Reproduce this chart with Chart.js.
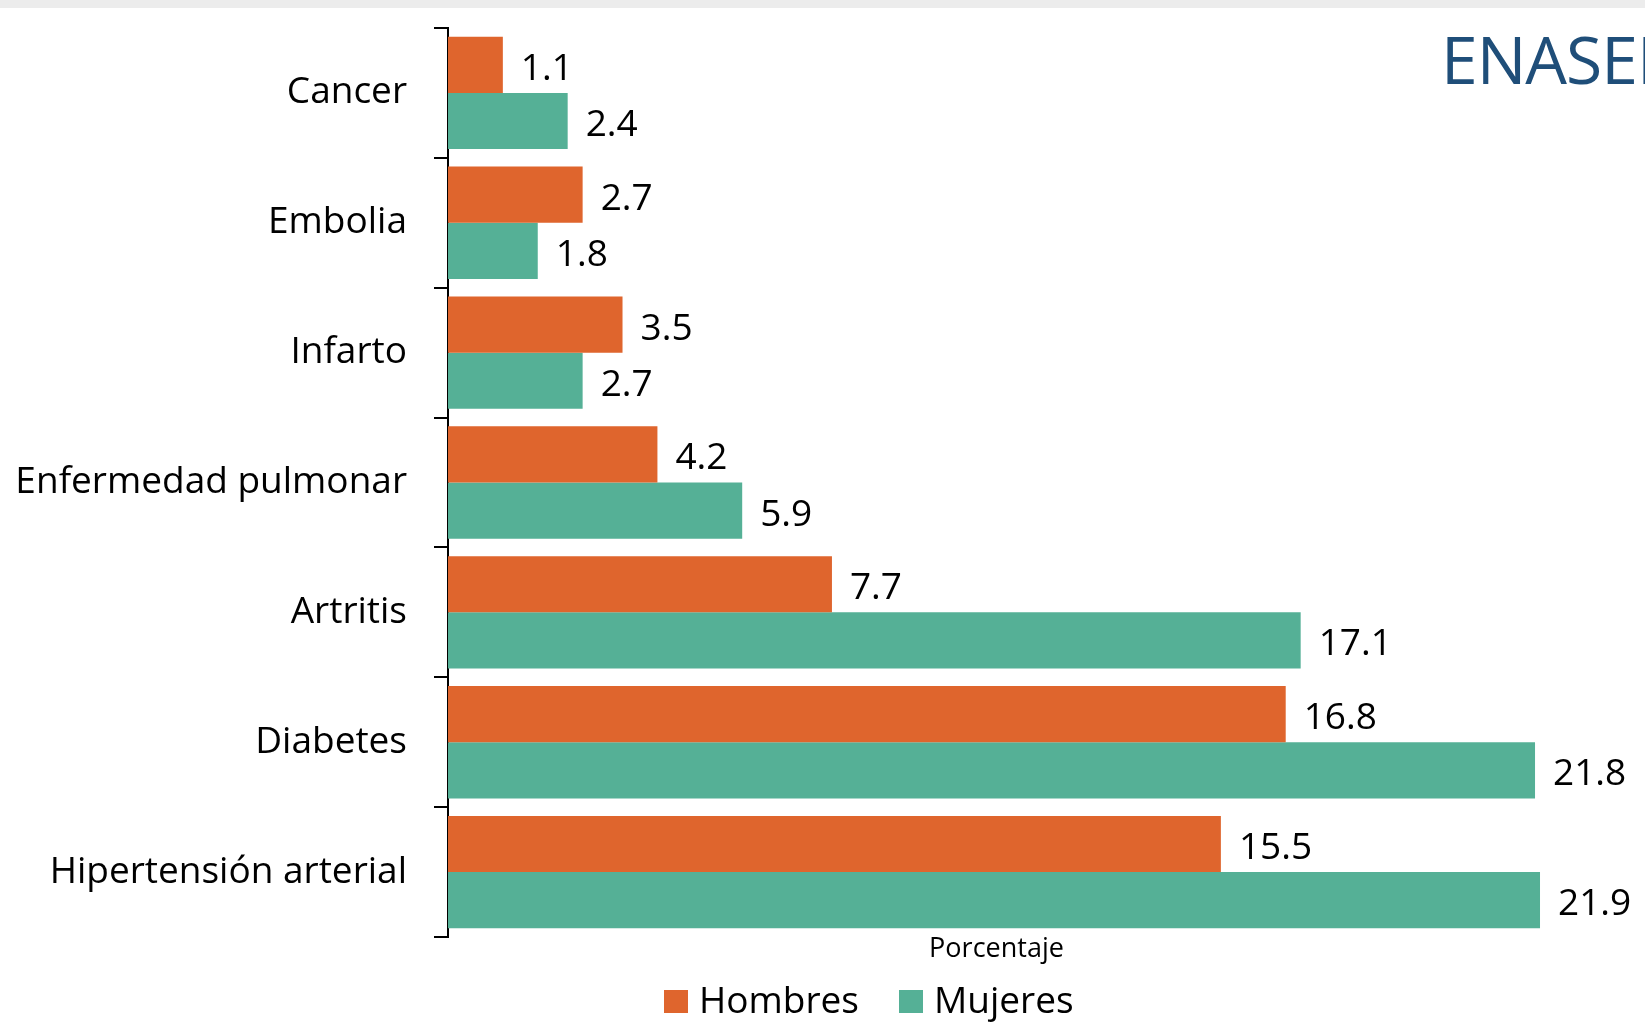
<!DOCTYPE html>
<html>
<head>
<meta charset="utf-8">
<script src="https://cdn.jsdelivr.net/npm/chart.js@4.4.0/dist/chart.umd.min.js"></script>
<style>
  html, body { margin: 0; padding: 0; background: #fff; }
  body { width: 1645px; height: 1023px; position: relative; overflow: hidden; font-family: 'Open Sans', sans-serif; }
  #topband { position: absolute; left: 0; top: 0; width: 1645px; height: 8px; background: #ececec; }
  #brand { position: absolute; left: 1441px; top: 25px; font-size: 66px; line-height: 1; letter-spacing: -1px; color: #1F4E79; white-space: nowrap; }
  #wrap { position: absolute; left: 0; top: 0; width: 1645px; height: 1023px; }
  #legend { position: absolute; left: 664px; top: 980px; display: flex; gap: 40px; }
  .item { display: flex; align-items: flex-start; font-size: 37px; line-height: 1; color: #000; }
  .box { width: 24px; height: 23px; margin-top: 10px; margin-right: 11px; }
</style>
</head>
<body>
<div id="topband"></div>
<div id="wrap"><canvas id="chart"></canvas></div>
<div id="brand">ENASEM</div>
<div id="legend"></div>

<script>
/* ================================================
   DATA
================================================ */

const categories = ['Cancer', 'Embolia', 'Infarto', 'Enfermedad pulmonar', 'Artritis', 'Diabetes', 'Hipertensión arterial'];
const hombres    = [1.1, 2.7, 3.5, 4.2, 7.7, 16.8, 15.5];
const mujeres    = [2.4, 1.8, 2.7, 5.9, 17.1, 21.8, 21.9];
const seriesNames  = ['Hombres', 'Mujeres'];
const seriesColors = ['#DF652D', '#55B096'];
const xTitle = 'Porcentaje';

/* ================================================
   VALUE LABELS  (drawn at bar end)
================================================ */

const barValueLabels = {
  id: 'barValueLabels',
  afterDatasetsDraw(chart) {
    const ctx = chart.ctx;
    ctx.save();
    ctx.font = '37px "Open Sans"';
    ctx.fillStyle = '#000';
    ctx.textAlign = 'left';
    ctx.textBaseline = 'alphabetic';
    chart.data.datasets.forEach((ds, i) => {
      chart.getDatasetMeta(i).data.forEach((bar, j) => {
        ctx.fillText(ds.data[j].toFixed(1), bar.x + 18, bar.y + 15);
      });
    });
    ctx.restore();
  },
};

/* ================================================
   CHART
================================================ */

Chart.defaults.font.family = "'Open Sans', sans-serif";

new Chart(document.getElementById('chart').getContext('2d'), {
  type: 'bar',
  data: {
    labels: categories,
    datasets: [hombres, mujeres].map((d, i) => ({
      label:              seriesNames[i],
      data:               d,
      backgroundColor:    seriesColors[i],
      borderWidth:        0,
      categoryPercentage: 0.865,
      barPercentage:      1.0,
    })),
  },
  options: {
    indexAxis:           'y',
    responsive:          true,
    maintainAspectRatio: false,
    animation:           false,
    layout: { padding: { top: 28, right: 100, bottom: 46, left: 0 } },
    plugins: {
      legend:  { display: false },
      tooltip: { enabled: false },
    },
    scales: {
      x: {
        min: 0,
        max: 22,
        grid:   { display: false },
        border: { display: false },
        ticks:  { display: false },
        title: {
          display: true,
          text:    xTitle,
          color:   '#000',
          font:    { size: 27 },
          padding: { top: 0, bottom: 11 },
        },
        afterFit: s => { s.height = 40; },
      },
      y: {
        grid:   { offset: true, drawOnChartArea: false, color: '#000', lineWidth: 2, tickLength: 14 },
        border: { color: '#000', width: 2 },
        ticks:  { color: '#000', font: { size: 37 }, padding: 27 },
        afterFit: s => {
          s.width = 448;
          s.paddingTop = 0;
          s.paddingBottom = 0;
        },
      },
    },
  },
  plugins: [barValueLabels],
});

/* ================================================
   LEGEND  (html, below the axis title)
================================================ */

const legendEl = document.getElementById('legend');
seriesNames.forEach((name, i) => {
  const item = document.createElement('div');
  item.className = 'item';
  item.innerHTML = `<span class="box" style="background:${seriesColors[i]}"></span><span>${name}</span>`;
  legendEl.appendChild(item);
});
</script>
</body>
</html>
